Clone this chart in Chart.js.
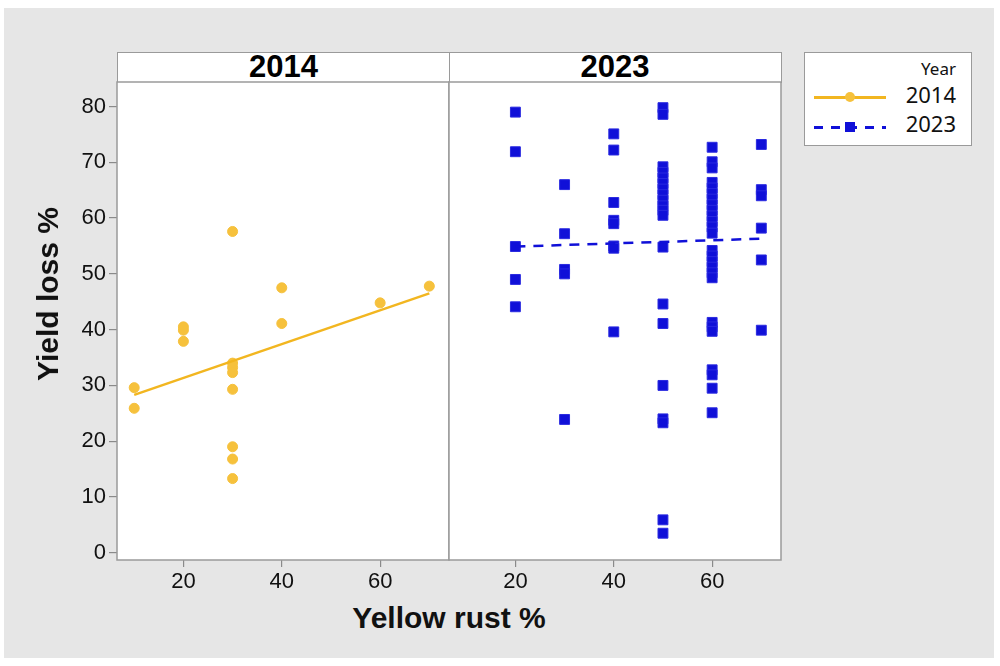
<!DOCTYPE html>
<html>
<head>
<meta charset="utf-8">
<script src="https://cdn.jsdelivr.net/npm/chart.js@4.4.1/dist/chart.umd.min.js"></script>
<style>
  body { margin: 0; background: #fff; width: 1000px; height: 666px; position: relative; overflow: hidden; font-family: "Liberation Sans", Arial, sans-serif; }
  .bg { position: absolute; left: 4px; top: 8px; width: 990px; height: 650px; background: #e6e6e6; }
  .abs { position: absolute; }
  .head { position: absolute; top: 52px; height: 31px; box-sizing: border-box; background: #fff; border: 1.5px solid #9a9a9a; text-align: center; font-weight: bold; font-size: 31px; line-height: 28px; color: #000; }
  .axtitle { position: absolute; font-weight: bold; font-size: 30px; color: #111; white-space: nowrap; }
  .legend { position: absolute; left: 804px; top: 52px; width: 168px; height: 94px; box-sizing: border-box; background: #fff; border: 1.5px solid #9a9a9a; font-family: "Noto Sans", sans-serif; color: #111; }
  .legend .lbl { position: absolute; right: 15px; white-space: nowrap; }
</style>
</head>
<body>
<div class="bg"></div>
<div class="head" style="left:117px; width:333px;">2014</div>
<div class="head" style="left:448.5px; width:333px;">2023</div>
<canvas id="c2014" class="abs" width="452" height="522" style="left:0; top:78px;"></canvas>
<canvas id="c2023" class="abs" width="340" height="522" style="left:446px; top:78px;"></canvas>
<div class="axtitle" style="left:48px; top:294px; transform: translate(-50%, -50%) rotate(-90deg);">Yield loss %</div>
<div class="axtitle" style="left:449px; top:618px; transform: translate(-50%, -50%);">Yellow rust %</div>
<div class="legend">
  <div class="lbl" style="top:4px; font-size:17px;">Year</div>
  <div class="lbl" style="top:26px; font-size:22px;">2014</div>
  <div class="lbl" style="top:55px; font-size:22px;">2023</div>
  <div class="abs" style="left:9px; top:43px; width:72px; height:2.5px; background:#f2b620;"></div>
  <div class="abs" style="left:40px; top:39px; width:10px; height:10px; border-radius:50%; background:#f6c13c;"></div>
  <div class="abs" style="left:9px; top:73px; width:72px; height:2.5px; background: repeating-linear-gradient(90deg, #1010d8 0 9px, transparent 9px 17px);"></div>
  <div class="abs" style="left:40px; top:69px; width:10px; height:10px; background:#1010d8;"></div>
</div>
<script>
// values
const yTicks = [0, 10, 20, 30, 40, 50, 60, 70, 80];
const xTicks = [20, 40, 60];

const rust2014 = [10, 10, 20, 20, 20, 30, 30, 30, 30, 30, 30, 30, 30, 40, 40, 60, 70];
const loss2014 = [29.6, 25.9, 40.5, 39.9, 37.9, 57.6, 34.0, 33.2, 32.3, 29.3, 19.0, 16.8, 13.3, 47.5, 41.1, 44.8, 47.8];

const rustLevels2023 = [20, 30, 40, 50, 60, 70];
const loss2023 = [
    [79.0, 71.9, 54.9, 49.0, 44.1],
    [66.0, 57.2, 50.8, 50.0, 23.9],
    [75.1, 72.2, 62.8, 59.6, 59.0, 55.0, 54.6, 39.6],
    [79.8, 78.6, 69.2, 68.2, 67.2, 66.2, 65.2, 64.2, 63.2, 62.2, 61.4, 60.5, 54.8, 44.6, 41.1, 30.0, 24.0, 23.3, 5.9, 3.5],
    [72.7, 70.1, 69.0, 66.4, 65.4, 64.4, 63.4, 62.4, 61.4, 60.4, 59.4, 58.4, 57.3, 54.2, 53.2, 52.2, 51.2, 50.2, 49.3, 41.3, 40.5, 39.7, 32.8, 31.9, 29.5, 25.1],
    [73.2, 65.1, 64.0, 58.2, 52.5, 39.9]
];

const fitX2014 = [10, 70];
const fitY2014 = [28.3, 46.5];
const fitX2023 = [20, 70];
const fitY2023 = [54.9, 56.3];

const YELLOW = '#f6c13c';
const YELLOW_LINE = '#f2b620';
const BLUE = '#1010d8';

// white plot area with a grey border
const panelFrame = {
    id: 'panelFrame',
    beforeDraw(chart) {
        const { ctx, chartArea: a } = chart;
        ctx.save();
        ctx.fillStyle = '#fff';
        ctx.fillRect(a.left, a.top, a.right - a.left, a.bottom - a.top);
        ctx.restore();
    },
    afterDraw(chart) {
        const { ctx, chartArea: a } = chart;
        ctx.save();
        ctx.strokeStyle = '#9a9a9a';
        ctx.lineWidth = 1.5;
        ctx.strokeRect(a.left, a.top, a.right - a.left, a.bottom - a.top);
        ctx.restore();
    }
};

function toPoints(xs, ys) {
    return xs.map((x, i) => ({ x: x, y: ys[i] }));
}

function noPadding(s) {
    s.paddingTop = 0;
    s.paddingBottom = 0;
    s.paddingLeft = 0;
    s.paddingRight = 0;
}

function makeScales(showY) {
    return {
        x: {
            type: 'linear', min: 6.5, max: 74,
            afterBuildTicks: s => { s.ticks = xTicks.map(v => ({ value: v })); },
            afterFit: s => { s.height = 40; noPadding(s); },
            grid: { drawOnChartArea: false, drawTicks: true, tickLength: 7, color: '#8a8a8a', lineWidth: 1.2 },
            border: { display: false },
            ticks: { color: '#111', padding: 2, font: { family: 'Liberation Sans', size: 22 } }
        },
        y: {
            type: 'linear', min: -1.3, max: 84.4, display: showY,
            afterBuildTicks: s => { s.ticks = yTicks.map(v => ({ value: v })); },
            afterFit: s => { s.width = showY ? 117 : 0; noPadding(s); },
            grid: { drawOnChartArea: false, drawTicks: true, tickLength: 8, color: '#8a8a8a', lineWidth: 1.2 },
            border: { display: false },
            ticks: { color: '#111', padding: 3, font: { family: 'Liberation Sans', size: 22 } }
        }
    };
}

const common = {
    responsive: false,
    animation: false,
    events: [],
    plugins: { legend: { display: false }, tooltip: { enabled: false } }
};

new Chart(document.getElementById('c2014'), {
    type: 'scatter',
    data: {
        datasets: [
            {
                data: toPoints(fitX2014, fitY2014),
                showLine: true, borderColor: YELLOW_LINE, borderWidth: 2.5,
                pointRadius: 0, order: 0
            },
            {
                data: toPoints(rust2014, loss2014),
                backgroundColor: YELLOW, borderColor: YELLOW, borderWidth: 1,
                pointStyle: 'circle', pointRadius: 5, order: 1
            }
        ]
    },
    options: Object.assign({}, common, {
        layout: { autoPadding: false, padding: { left: 0, right: 3, top: 4, bottom: 0 } },
        scales: makeScales(true)
    }),
    plugins: [panelFrame]
});

const points2023 = [];
rustLevels2023.forEach((x, i) => {
    loss2023[i].forEach(y => points2023.push({ x: x, y: y }));
});

new Chart(document.getElementById('c2023'), {
    type: 'scatter',
    data: {
        datasets: [
            {
                data: toPoints(fitX2023, fitY2023),
                showLine: true, borderColor: BLUE, borderWidth: 2.5, borderDash: [10, 8],
                pointRadius: 0, order: 0
            },
            {
                data: points2023,
                backgroundColor: BLUE, borderColor: '#2a2ae0', borderWidth: 1,
                pointStyle: 'rect', pointRadius: 7, order: 1
            }
        ]
    },
    options: Object.assign({}, common, {
        layout: { autoPadding: false, padding: { left: 3, right: 5, top: 4, bottom: 0 } },
        scales: makeScales(false)
    }),
    plugins: [panelFrame]
});
</script>
</body>
</html>
